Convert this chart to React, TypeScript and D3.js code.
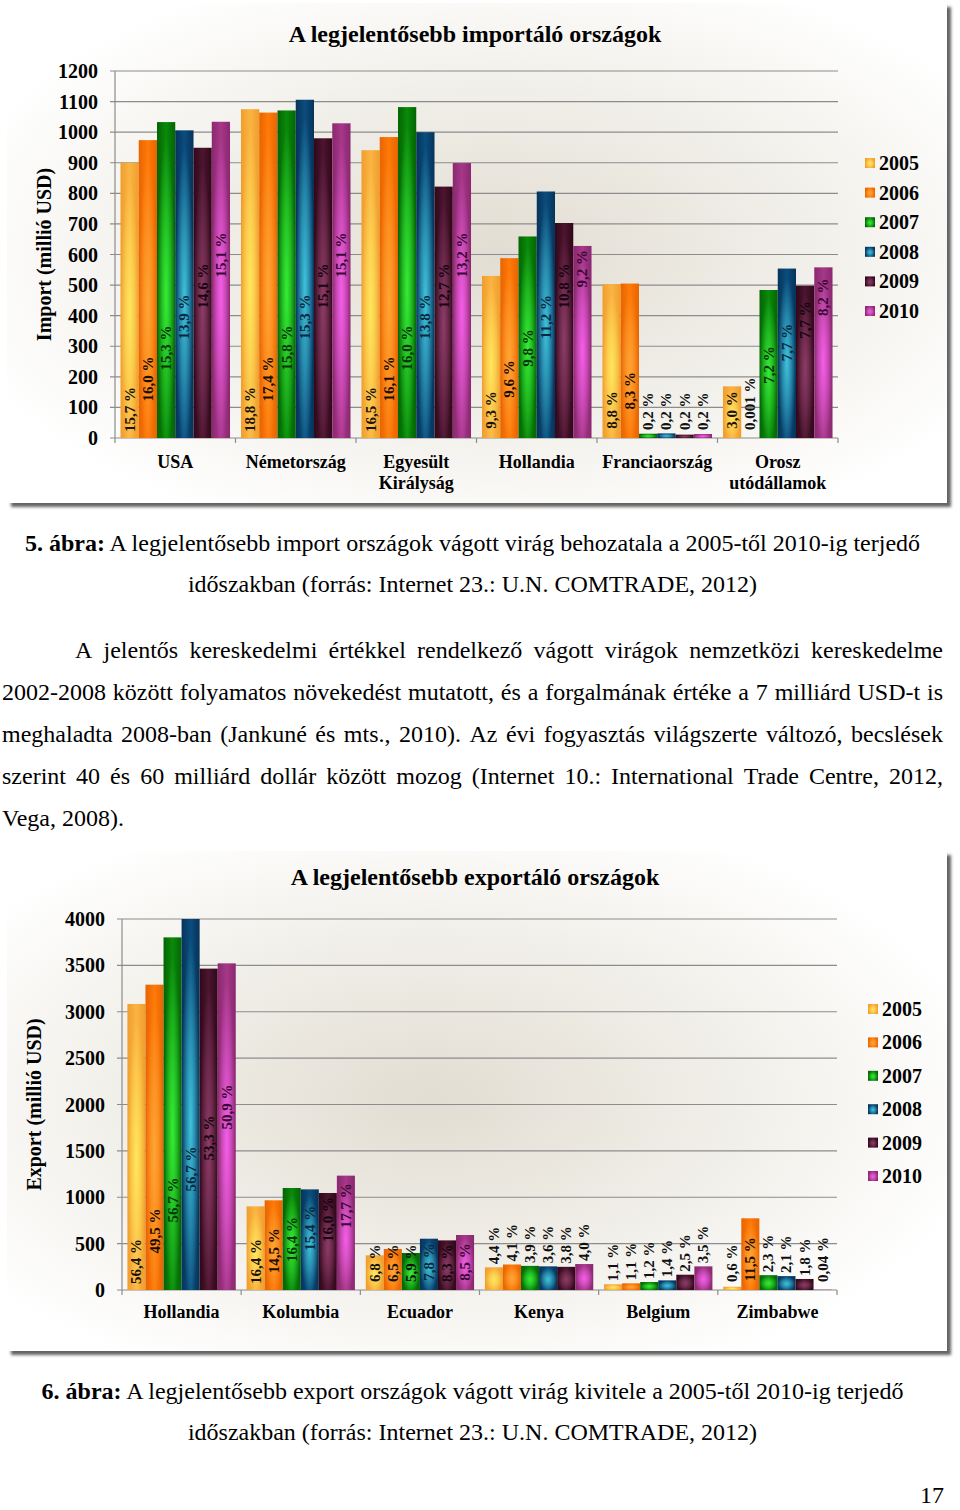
import React from 'react'
import * as d3 from 'd3'

// ---- data -------------------------------------------------------------
const years = ['2005', '2006', '2007', '2008', '2009', '2010']

const importCountries = ['USA', 'Németország', 'Egyesült\nKirályság', 'Hollandia', 'Franciaország', 'Orosz\nutódállamok']
// million USD, one row per country, one column per year
const importValues = [
  [900, 974, 1033, 1006, 949, 1034],
  [1075, 1064, 1071, 1106, 980, 1029],
  [941, 984, 1082, 1000, 822, 899],
  [530, 588, 659, 806, 703, 628],
  [503, 505, 14, 15, 11, 13],
  [169, 0.1, 484, 554, 498, 558],
]
const importShares = [
  ['15,7', '16,0', '15,3', '13,9', '14,6', '15,1'],
  ['18,8', '17,4', '15,8', '15,3', '15,1', '15,1'],
  ['16,5', '16,1', '16,0', '13,8', '12,7', '13,2'],
  ['9,3', '9,6', '9,8', '11,2', '10,8', '9,2'],
  ['8,8', '8,3', '0,2', '0,2', '0,2', '0,2'],
  ['3,0', '0,001', '7,2', '7,7', '7,7', '8,2'],
]

const exportCountries = ['Hollandia', 'Kolumbia', 'Ecuador', 'Kenya', 'Belgium', 'Zimbabwe']
const exportValues = [
  [3084, 3292, 3802, 4000, 3465, 3522],
  [902, 967, 1100, 1085, 1046, 1233],
  [374, 442, 399, 553, 535, 593],
  [245, 275, 260, 255, 250, 280],
  [62, 72, 86, 104, 165, 255],
  [35, 773, 160, 150, 119, 3],
]
const exportShares = [
  ['56,4', '49,5', '56,7', '56,7', '53,3', '50,9'],
  ['16,4', '14,5', '16,4', '15,4', '16,0', '17,7'],
  ['6,8', '6,5', '5,9', '7,8', '8,3', '8,5'],
  ['4,4', '4,1', '3,9', '3,6', '3,8', '4,0'],
  ['1,1', '1,1', '1,2', '1,4', '2,5', '3,5'],
  ['0,6', '11,5', '2,3', '2,1', '1,8', '0,04'],
]

const captionA = ['5. ábra:', ' A legjelentősebb import országok vágott virág behozatala a 2005-től 2010-ig terjedő']
const captionB = ['6. ábra:', ' A legjelentősebb export országok vágott virág kivitele a 2005-től 2010-ig terjedő']
const captionTail = 'időszakban (forrás: Internet 23.: U.N. COMTRADE, 2012)'
const paragraph = [
  'A jelentős kereskedelmi értékkel rendelkező vágott virágok nemzetközi kereskedelme',
  '2002-2008 között folyamatos növekedést mutatott, és a forgalmának értéke a 7 milliárd USD-t is',
  'meghaladta 2008-ban (Jankuné és mts., 2010). Az évi fogyasztás világszerte változó, becslések',
  'szerint 40 és 60 milliárd dollár között mozog (Internet 10.: International Trade Centre, 2012,',
  'Vega, 2008).',
]

// ---- styles -----------------------------------------------------------
const serif = "'Liberation Serif', 'Times New Roman', serif"
const seriesColors = [
  { edge: '#ef9e2c', base: '#fbb443', mid: '#ffe65c', text: '#1a1208' },
  { edge: '#e86400', base: '#ff7a08', mid: '#ffa535', text: '#1a0d00' },
  { edge: '#046404', base: '#0a8a0a', mid: '#36ec36', text: '#083508' },
  { edge: '#06335a', base: '#0b4d7e', mid: '#3fc2da', text: '#082a40' },
  { edge: '#300819', base: '#4c1530', mid: '#8c3c66', text: '#160510' },
  { edge: '#8a2870', base: '#a63888', mid: '#f45ee8', text: '#3a0834' },
]

const measureCtx = document.createElement('canvas').getContext('2d') as CanvasRenderingContext2D
function measure(text: string, font: string) {
  measureCtx.font = font
  return measureCtx.measureText(text).width
}

interface ChartProps {
  id: string
  title: string
  yLabel: string
  countries: string[]
  values: number[][]
  shares: string[][]
  yMax: number
  yStep: number
  frame: { x: number; y: number; w: number; h: number }
  plot: { left: number; right: number; top: number; bottom: number }
  titleY: number
  yLabelX: number
  tickRight: number
  catY: number
  legendX: number
  legendY: number
  legendStep: number
  glow: { cx: number; cy: number }
}

function BarChart(p: ChartProps) {
  const x0 = d3.scaleBand<string>().domain(p.countries).range([p.plot.left, p.plot.right]).padding(0)
  const x1 = d3.scaleBand<string>().domain(years).range([0, x0.bandwidth()]).paddingInner(0).paddingOuter(0.3)
  const y = d3.scaleLinear().domain([0, p.yMax]).range([p.plot.bottom, p.plot.top])
  const ticks = d3.range(0, p.yMax + 1, p.yStep)
  const labelFont = `bold 15px ${serif}`

  return (
    <g>
      <defs>
        <radialGradient id={`${p.id}-bg`} cx={p.glow.cx} cy={p.glow.cy} r="0.6">
          <stop offset="0" stopColor="#e2ddd2" />
          <stop offset="0.55" stopColor="#f1efe9" />
          <stop offset="1" stopColor="#ffffff" />
        </radialGradient>
      </defs>
      <rect x={p.frame.x} y={p.frame.y} width={p.frame.w} height={p.frame.h}
        fill={`url(#${p.id}-bg)`} filter="url(#shadow)" />

      <text x={475} y={p.titleY} textAnchor="middle" fontFamily={serif} fontWeight="bold" fontSize={24}>{p.title}</text>

      {/* grid + y axis */}
      {ticks.map(t => (
        <g key={t}>
          <line x1={p.plot.left - 5} x2={p.plot.right} y1={y(t)} y2={y(t)} stroke="#8c8c8c" strokeWidth={1.2} />
          <text x={p.tickRight} y={y(t)} dy="0.35em" textAnchor="end" fontFamily={serif} fontWeight="bold" fontSize={20}>{t}</text>
        </g>
      ))}
      <line x1={p.plot.left} x2={p.plot.left} y1={p.plot.top} y2={p.plot.bottom} stroke="#8c8c8c" strokeWidth={1.2} />
      {d3.range(p.countries.length + 1).map(i => {
        const xx = p.plot.left + i * x0.bandwidth()
        return <line key={i} x1={xx} x2={xx} y1={p.plot.bottom} y2={p.plot.bottom + 5} stroke="#8c8c8c" strokeWidth={1.2} />
      })}
      <text transform={`translate(${p.yLabelX},${(p.plot.top + p.plot.bottom) / 2}) rotate(-90)`} textAnchor="middle"
        dy="0.35em" fontFamily={serif} fontWeight="bold" fontSize={20}>{p.yLabel}</text>

      {/* bars */}
      {p.countries.map((c, ci) => {
        const maxH = d3.max(p.values[ci], v => p.plot.bottom - y(v)) as number
        const step = Math.max(0, Math.min(31, (maxH - 58) / 5))
        return (
          <g key={c}>
            {years.map((yr, si) => {
              const v = p.values[ci][si]
              const bx = (x0(c) as number) + (x1(yr) as number)
              const bw = x1.bandwidth()
              const h = p.plot.bottom - y(v)
              const label = `${p.shares[ci][si]} %`
              const len = measure(label, labelFont)
              const cx = bx + bw / 2 + 5
              const inside = h >= len + 10
              let pos: number
              if (inside) {
                pos = Math.max(len / 2 + 6, Math.min(28 + si * step, h - len / 2 - 4))
              } else {
                pos = h >= 30 ? 8 : Math.max(h + 3, 8)
              }
              return (
                <g key={yr}>
                  <rect x={bx} y={y(v)} width={bw} height={h} fill={`url(#bar-${si})`} />
                  <rect x={bx} y={y(v)} width={bw} height={h} fill={`url(#glow-${si})`} />
                  <text transform={`translate(${cx},${p.plot.bottom - pos}) rotate(-90)`}
                    textAnchor={inside ? 'middle' : 'start'} fontFamily={serif} fontWeight="bold" fontSize={15}
                    fill={inside ? seriesColors[si].text : '#111'}>{label}</text>
                </g>
              )
            })}
          </g>
        )
      })}

      {/* categories */}
      {p.countries.map(c => (
        <text key={c} x={(x0(c) as number) + x0.bandwidth() / 2} y={p.catY} textAnchor="middle"
          fontFamily={serif} fontWeight="bold" fontSize={18}>
          {c.split('\n').map((line, i) => (
            <tspan key={i} x={(x0(c) as number) + x0.bandwidth() / 2} dy={i === 0 ? 0 : 21}>{line}</tspan>
          ))}
        </text>
      ))}

      {/* legend */}
      {years.map((yr, si) => {
        const ly = p.legendY + si * p.legendStep
        return (
          <g key={yr}>
            <rect x={p.legendX} y={ly - 5} width={10} height={10} fill={`url(#bar-${si})`} />
            <rect x={p.legendX} y={ly - 5} width={10} height={10} fill={`url(#glow-${si})`} />
            <text x={p.legendX + 14} y={ly} dy="0.35em" fontFamily={serif} fontWeight="bold" fontSize={20}>{yr}</text>
          </g>
        )
      })}
    </g>
  )
}

function Justified({ text, x0, x1, y, last }: { text: string; x0: number; x1: number; y: number; last?: boolean }) {
  const font = `24px ${serif}`
  const words = text.split(' ')
  const widths = words.map(w => measure(w, font))
  const total = d3.sum(widths)
  const gap = last || words.length < 2 ? measure(' ', font) : (x1 - x0 - total) / (words.length - 1)
  let cur = x0
  return (
    <g>
      {words.map((w, i) => {
        const xx = cur
        cur += widths[i] + gap
        return <text key={i} x={xx} y={y} fontFamily={serif} fontSize={24}>{w}</text>
      })}
    </g>
  )
}

function Caption({ parts, y }: { parts: string[]; y: number }) {
  return (
    <g fontFamily={serif} fontSize={24}>
      <text x={472.5} y={y} textAnchor="middle">
        <tspan fontWeight="bold">{parts[0]}</tspan>
        <tspan>{parts[1]}</tspan>
      </text>
      <text x={472.5} y={y + 41} textAnchor="middle">{captionTail}</text>
    </g>
  )
}

export default function App() {
  return (
    <svg width={960} height={1510} style={{ position: 'absolute', left: 0, top: 0, background: '#fff' }}>
      <defs>
        <filter id="shadow" x="-5%" y="-5%" width="110%" height="110%">
          <feDropShadow dx="4" dy="4" stdDeviation="1.5" floodColor="#4a4a4a" floodOpacity="0.85" />
        </filter>
        {seriesColors.map((c, i) => (
          <React.Fragment key={i}>
            <linearGradient id={`bar-${i}`} x1="0" x2="1" y1="0" y2="0">
              <stop offset="0" stopColor={c.edge} />
              <stop offset="0.5" stopColor={c.base} />
              <stop offset="1" stopColor={c.edge} />
            </linearGradient>
            <radialGradient id={`glow-${i}`} cx="0.5" cy="0.55" r="0.5">
              <stop offset="0" stopColor={c.mid} stopOpacity="1" />
              <stop offset="0.5" stopColor={c.mid} stopOpacity="0.55" />
              <stop offset="1" stopColor={c.mid} stopOpacity="0" />
            </radialGradient>
          </React.Fragment>
        ))}
      </defs>

      <BarChart id="imp" title="A legjelentősebb importáló országok" yLabel="Import (millió USD)"
        countries={importCountries} values={importValues} shares={importShares} yMax={1200} yStep={100}
        frame={{ x: 7, y: 3, w: 940, h: 500 }} plot={{ left: 115, right: 838, top: 71, bottom: 438 }}
        titleY={42} yLabelX={44} tickRight={98} catY={468} legendX={865} legendY={163} legendStep={29.6}
        glow={{ cx: 0.52, cy: 0.5 }} />

      <Caption parts={captionA} y={551} />

      {paragraph.map((line, i) => (
        <Justified key={i} text={line} x0={i === 0 ? 75 : 2} x1={943} y={658 + i * 42} last={i === paragraph.length - 1} />
      ))}

      <BarChart id="exp" title="A legjelentősebb exportáló országok" yLabel="Export (millió USD)"
        countries={exportCountries} values={exportValues} shares={exportShares} yMax={4000} yStep={500}
        frame={{ x: 7, y: 851, w: 940, h: 500 }} plot={{ left: 122, right: 837, top: 919, bottom: 1290 }}
        titleY={885} yLabelX={34} tickRight={105} catY={1318} legendX={868} legendY={1009} legendStep={33.4}
        glow={{ cx: 0.45, cy: 0.5 }} />

      <Caption parts={captionB} y={1399} />

      <text x={944} y={1503} textAnchor="end" fontFamily={serif} fontSize={24}>17</text>
    </svg>
  )
}
